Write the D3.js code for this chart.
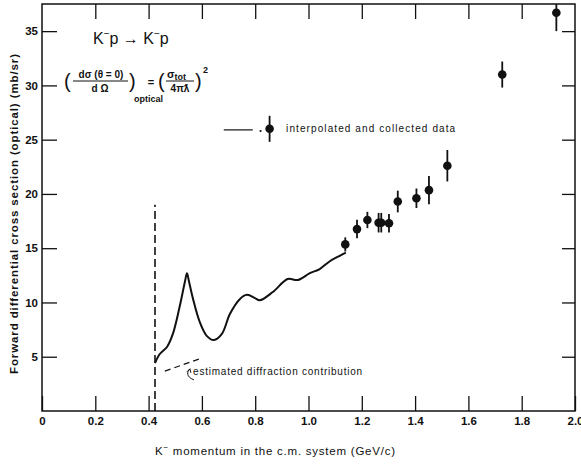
<!DOCTYPE html>
<html>
<head>
<meta charset="utf-8">
<title>K-p forward differential cross section</title>
<script src="https://d3js.org/d3.v7.min.js"></script>
<style>
    body { margin: 0; background: #fff; }
    svg { display: block; }
    text { font-family: "Liberation Sans", Arial, sans-serif; fill: #111; }
    .axis text { font-size: 11.5px; font-weight: bold; }
    .axis line { stroke: #111; stroke-width: 1.3; }
    .axis path { display: none; }
</style>
</head>
<body>
<svg id="chart" width="581" height="468"></svg>
<script>
    // optical curve
    const curveMomentum = [0.424, 0.442, 0.469, 0.491, 0.517, 0.537, 0.544, 0.551, 0.566, 0.592, 0.619, 0.645, 0.675, 0.705,
        0.742, 0.769, 0.799, 0.817, 0.866, 0.922, 0.960, 1.005, 1.042, 1.080, 1.117, 1.140];
    const curveSigma = [4.42, 5.25, 5.9, 7.1, 9.67, 12.0, 12.7, 12.0, 10.4, 8.2, 6.9, 6.54, 7.1, 8.93,
        10.3, 10.7, 10.4, 10.2, 10.96, 12.16, 12.07, 12.7, 13.08, 13.8, 14.3, 14.6];

    // collected data points with error bars
    const dataMomentum = [1.138, 1.182, 1.221, 1.263, 1.273, 1.302, 1.335, 1.405, 1.452, 1.521, 1.727, 1.930];
    const dataSigma = [15.35, 16.76, 17.6, 17.35, 17.35, 17.3, 19.3, 19.6, 20.35, 22.6, 31.0, 36.7];
    const dataError = [0.65, 0.85, 0.75, 0.9, 0.9, 0.85, 1.0, 0.9, 1.3, 1.45, 1.2, 1.7];

    // threshold line and estimated diffraction contribution
    const thresholdMomentum = 0.424;
    const thresholdTop = 19;
    const diffractionMomentum = [0.461, 0.60];
    const diffractionSigma = [3.68, 4.88];

    const xTicks = [0, 0.2, 0.4, 0.6, 0.8, 1.0, 1.2, 1.4, 1.6, 1.8, 2.0];
    const xTickLabels = ["0", "0.2", "0.4", "0.6", "0.8", "1.0", "1.2", "1.4", "1.6", "1.8", "2.0"];
    const yTicks = [5, 10, 15, 20, 25, 30, 35];

    const margin = {top: 4, right: 6, bottom: 57, left: 42},
        width = 581 - margin.left - margin.right,
        height = 468 - margin.top - margin.bottom;

    const svg = d3.select("#chart");
    const g = svg.append("g").attr("transform", `translate(${margin.left},${margin.top})`);

    const x = d3.scaleLinear().domain([0, 2]).range([0, width]);
    const y = d3.scaleLinear().domain([0, 37.5]).range([height, 0]);

    g.append("clipPath").attr("id", "frame")
        .append("rect").attr("width", width).attr("height", height);

    // axes, ticks inward on all four sides
    g.append("g").attr("class", "axis")
        .attr("transform", `translate(0,${height})`)
        .call(d3.axisBottom(x).tickValues(xTicks).tickSizeInner(-15).tickSizeOuter(0).tickPadding(6)
            .tickFormat((d, i) => xTickLabels[i]));
    g.append("g").attr("class", "axis")
        .call(d3.axisTop(x).tickValues(xTicks.slice(1, -1)).tickSizeInner(-15).tickSizeOuter(0).tickFormat(""));
    g.append("g").attr("class", "axis")
        .call(d3.axisLeft(y).tickValues(yTicks).tickSizeInner(-15).tickSizeOuter(0).tickPadding(4));
    g.append("g").attr("class", "axis")
        .attr("transform", `translate(${width},0)`)
        .call(d3.axisRight(y).tickValues(yTicks).tickSizeInner(-13).tickSizeOuter(0).tickFormat(""));

    g.append("rect")
        .attr("width", width).attr("height", height)
        .attr("fill", "none").attr("stroke", "#111").attr("stroke-width", 1.5);

    // axis titles
    svg.append("text")
        .attr("transform", "translate(18,214) rotate(-90)")
        .attr("text-anchor", "middle")
        .attr("textLength", 320).attr("lengthAdjust", "spacing")
        .style("font-size", "11.5px").style("font-weight", "bold")
        .text("Forward differential cross section (optical) (mb/sr)");

    const xt = svg.append("text")
        .attr("x", 155).attr("y", 455)
        .attr("textLength", 240).attr("lengthAdjust", "spacing")
        .style("font-size", "11.5px");
    xt.append("tspan").text("K");
    xt.append("tspan").attr("dy", -5).style("font-size", "8px").text("\u2212");
    xt.append("tspan").attr("dy", 5).text("  momentum in the c.m. system  (GeV/c)");

    // threshold
    g.append("line")
        .attr("x1", x(thresholdMomentum)).attr("x2", x(thresholdMomentum))
        .attr("y1", y(0)).attr("y2", y(thresholdTop))
        .attr("stroke", "#111").attr("stroke-width", 1.6).attr("stroke-dasharray", "8,4");

    // optical curve
    const line = d3.line()
        .x((d, i) => x(curveMomentum[i]))
        .y(d => y(d))
        .curve(d3.curveCatmullRom.alpha(0.5));
    g.append("path")
        .attr("d", line(curveSigma))
        .attr("fill", "none").attr("stroke", "#111").attr("stroke-width", 2);

    // diffraction estimate
    g.append("line")
        .attr("x1", x(diffractionMomentum[0])).attr("y1", y(diffractionSigma[0]))
        .attr("x2", x(diffractionMomentum[1])).attr("y2", y(diffractionSigma[1]))
        .attr("stroke", "#111").attr("stroke-width", 1.2).attr("stroke-dasharray", "6,4");
    const ax = x(0.555), ay = y(3.7);
    g.append("path")
        .attr("d", `M${ax + 4},${ay + 9} C${ax - 4},${ay + 6} ${ax - 3},${ay + 1} ${ax},${ay - 2}
            M${ax},${ay - 2} l-3,3 M${ax},${ay - 2} l1,4`)
        .attr("fill", "none").attr("stroke", "#111").attr("stroke-width", 1);
    g.append("text")
        .attr("x", x(0.567)).attr("y", y(3.3))
        .attr("textLength", 169).attr("lengthAdjust", "spacing")
        .style("font-size", "10px")
        .text("estimated diffraction contribution");

    // data points
    const pts = g.append("g").attr("clip-path", "url(#frame)");
    pts.selectAll("line.err")
        .data(dataSigma)
        .join("line")
        .attr("class", "err")
        .attr("x1", (d, i) => x(dataMomentum[i])).attr("x2", (d, i) => x(dataMomentum[i]))
        .attr("y1", (d, i) => y(d - dataError[i])).attr("y2", (d, i) => y(d + dataError[i]))
        .attr("stroke", "#111").attr("stroke-width", 1.8);
    pts.selectAll("circle")
        .data(dataSigma)
        .join("circle")
        .attr("cx", (d, i) => x(dataMomentum[i]))
        .attr("cy", d => y(d))
        .attr("r", 4.3)
        .attr("fill", "#111");

    // legend
    const lgY = 26.0;
    g.append("line")
        .attr("x1", x(0.682)).attr("x2", x(0.791))
        .attr("y1", y(25.9)).attr("y2", y(25.9))
        .attr("stroke", "#111").attr("stroke-width", 1.2);
    g.append("circle").attr("cx", x(0.82)).attr("cy", y(25.8)).attr("r", 1.1).attr("fill", "#111");
    g.append("line")
        .attr("x1", x(0.854)).attr("x2", x(0.854))
        .attr("y1", y(lgY - 1.2)).attr("y2", y(lgY + 1.2))
        .attr("stroke", "#111").attr("stroke-width", 1.8);
    g.append("circle").attr("cx", x(0.854)).attr("cy", y(lgY)).attr("r", 4.3).attr("fill", "#111");
    g.append("text")
        .attr("x", x(0.916)).attr("y", y(lgY) + 3.5)
        .attr("textLength", 169).attr("lengthAdjust", "spacing")
        .style("font-size", "10px")
        .text("interpolated and collected data");

    // reaction label
    const title = svg.append("text").attr("x", 93).attr("y", 44).style("font-size", "16px");
    title.append("tspan").text("K");
    title.append("tspan").attr("dy", -7).style("font-size", "10px").text("\u2212");
    title.append("tspan").attr("dy", 7).text("p \u2192 K");
    title.append("tspan").attr("dy", -7).style("font-size", "10px").text("\u2212");
    title.append("tspan").attr("dy", 7).text("p");

    // optical theorem formula
    const f = svg.append("g").style("font-weight", "bold");
    f.append("text").attr("x", 64).attr("y", 88).style("font-size", "20px").style("font-weight", "normal").text("(");
    f.append("text").attr("x", 101).attr("y", 78).attr("text-anchor", "middle").style("font-size", "10px")
        .text("d\u03c3  (\u03b8 = 0)");
    f.append("line").attr("x1", 73).attr("x2", 128).attr("y1", 81).attr("y2", 81).attr("stroke", "#111").attr("stroke-width", 1);
    f.append("text").attr("x", 100).attr("y", 92).attr("text-anchor", "middle").style("font-size", "10px").text("d \u03a9");
    f.append("text").attr("x", 129).attr("y", 88).style("font-size", "20px").style("font-weight", "normal").text(")");
    f.append("text").attr("x", 134).attr("y", 102).style("font-size", "9px").text("optical");
    f.append("text").attr("x", 151).attr("y", 86).attr("text-anchor", "middle").style("font-size", "11px").text("=");
    f.append("text").attr("x", 158).attr("y", 88).style("font-size", "20px").style("font-weight", "normal").text("(");
    const num2 = f.append("text").attr("x", 167).attr("y", 78).style("font-size", "11px");
    num2.append("tspan").text("\u03c3");
    num2.append("tspan").attr("dy", 2).style("font-size", "9px").text("tot");
    f.append("line").attr("x1", 166).attr("x2", 194).attr("y1", 81).attr("y2", 81).attr("stroke", "#111").attr("stroke-width", 1);
    f.append("text").attr("x", 180).attr("y", 92).attr("text-anchor", "middle").style("font-size", "10px").text("4\u03c0\u019b");
    f.append("text").attr("x", 195).attr("y", 88).style("font-size", "20px").style("font-weight", "normal").text(")");
    f.append("text").attr("x", 203).attr("y", 73).style("font-size", "9px").text("2");
</script>
</body>
</html>
